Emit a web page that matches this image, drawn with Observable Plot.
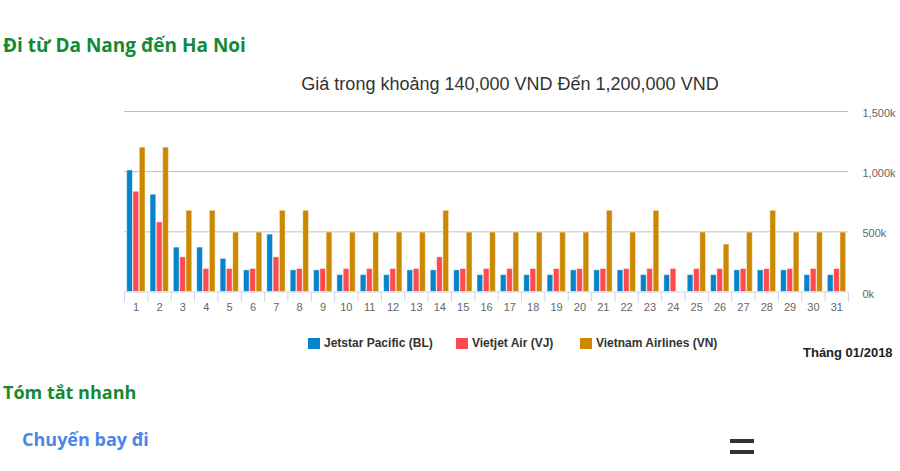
<!DOCTYPE html>
<html>
<head>
<meta charset="utf-8">
<script src="https://cdn.jsdelivr.net/npm/d3@7"></script>
<script src="https://cdn.jsdelivr.net/npm/@observablehq/plot@0.6"></script>
<style>
  html, body { margin: 0; padding: 0; background: #fff; width: 900px; height: 471px; overflow: hidden; }
  body { position: relative; font-family: "Liberation Sans", Arial, sans-serif; }
  .abs { position: absolute; white-space: nowrap; }
  .h { font-family: "Open Sans", sans-serif; font-weight: 700; font-size: 19px; color: #138a36; line-height: 1; }
  #subtitle { left: 0; width: 1020px; text-align: center; top: 75px; font-size: 18px; color: #333; line-height: 1; }
  #chart { position: absolute; left: 0; top: 100px; }
  #tri { left: 69px; top: 165px; width: 0; height: 0; border-top: 25px solid transparent; border-bottom: 25px solid transparent; border-right: 27px solid #000; }
  .lg { top: 337px; font-size: 12px; font-weight: 700; color: #333; line-height: 12px; display: flex; align-items: center; }
  .sw { width: 12px; height: 11px; margin-right: 4px; display: inline-block; }
  #month { left: 803px; top: 345px; font-size: 13px; font-weight: 700; color: #222; }
  #sub2 { left: 22px; top: 430px; font-family: "Open Sans", sans-serif; font-weight: 700; font-size: 18px; color: #4a86e8; line-height: 1; }
  .bar { position: absolute; left: 730px; width: 24px; height: 4px; background: #333; }
</style>
</head>
<body>
<div class="abs h" style="left:3px; top:36px;">Đi từ Da Nang đến Ha Noi</div>
<div class="abs" id="subtitle">Giá trong khoảng 140,000 VND Đến 1,200,000 VND</div>
<div class="abs" id="tri"></div>
<div id="chart"></div>
<div id="legend"></div>
<div class="abs" id="month">Tháng 01/2018</div>
<div class="abs h" style="left:3px; top:383px; font-size:18px;">Tóm tắt nhanh</div>
<div class="abs" id="sub2">Chuyến bay đi</div>
<div class="bar" style="top:439px"></div>
<div class="bar" style="top:450px"></div>
<script>
// ---- data (prices in VND) ----
const days = [1,2,3,4,5,6,7,8,9,10,11,12,13,14,15,16,17,18,19,20,21,22,23,24,25,26,27,28,29,30,31];
const airlines = ["Jetstar Pacific (BL)", "Vietjet Air (VJ)", "Vietnam Airlines (VN)"];
const colors = ["#0683c9", "#ff4a4f", "#cc8800"];
const jetstar = [1010000,808000,369000,369000,275000,180000,477000,180000,180000,140000,140000,140000,180000,180000,180000,140000,140000,140000,140000,180000,180000,180000,140000,140000,140000,140000,180000,180000,180000,140000,140000];
const vietjet = [833000,578000,288000,191000,191000,191000,288000,191000,191000,191000,191000,191000,191000,288000,191000,191000,191000,191000,191000,191000,191000,191000,191000,191000,191000,191000,191000,191000,191000,191000,191000];
const vietnamAirlines = [1200000,1200000,675000,675000,494000,494000,675000,675000,494000,494000,494000,494000,494000,675000,494000,494000,494000,494000,494000,494000,675000,494000,675000,null,494000,394000,494000,675000,494000,494000,494000];
const yTicks = [0, 500000, 1000000, 1500000];

const series = [jetstar, vietjet, vietnamAirlines];
const rows = [];
days.forEach((day, di) => {
  series.forEach((s, si) => {
    if (s[di] != null) rows.push({day, i: si, airline: airlines[si], price: s[di]});
  });
});
const boundaries = days.map(d => d - 0.5).concat([days[days.length - 1] + 0.5]);

// layout constants (fractions of a day slot)
const lead = 0.115, step = 0.27, bw = 0.245;

const chart = Plot.plot({
  width: 900,
  height: 220,
  marginTop: 11,
  marginBottom: 28.5,
  marginLeft: 124,
  marginRight: 52,
  x: {type: "linear", domain: [boundaries[0], boundaries[boundaries.length - 1]], label: null},
  y: {domain: [0, 1500000], label: null},
  color: {domain: airlines, range: colors},
  style: {fontFamily: "'Liberation Sans', Arial, sans-serif", fontSize: "11px", color: "#666", background: "#fff", overflow: "visible"},
  marks: [
    Plot.gridY(yTicks.slice(1), {stroke: "#c0c0c0", strokeOpacity: 1}),
    Plot.rectY(rows, {
      x1: d => d.day - 0.5 + lead + d.i * step,
      x2: d => d.day - 0.5 + lead + d.i * step + bw,
      y: "price",
      fill: "airline",
      stroke: "#fff",
      strokeOpacity: 0.45,
      strokeWidth: 1
    }),
    Plot.ruleY([0], {stroke: "#ccd6eb"}),
    Plot.axisX(boundaries, {tickSize: 10, tickFormat: () => "", stroke: "#ccd6eb", label: null}),
    Plot.axisX(days, {tickSize: 0, tickPadding: 11, tickFormat: d => String(d), fill: "#666", label: null}),
    Plot.axisY(yTicks, {anchor: "right", tickSize: 0, tickPadding: 14, dy: 2, fill: "#666", label: null,
      tickFormat: d => d3.format(",")(d / 1000) + "k"})
  ]
});
document.getElementById("chart").appendChild(chart);

// legend
const legendX = [308, 456, 580];
const legend = document.getElementById("legend");
airlines.forEach((name, i) => {
  const el = document.createElement("div");
  el.className = "abs lg";
  el.style.left = legendX[i] + "px";
  const sw = document.createElement("span");
  sw.className = "sw";
  sw.style.background = colors[i];
  el.appendChild(sw);
  el.appendChild(document.createTextNode(name));
  legend.appendChild(el);
});
</script>
</body>
</html>
